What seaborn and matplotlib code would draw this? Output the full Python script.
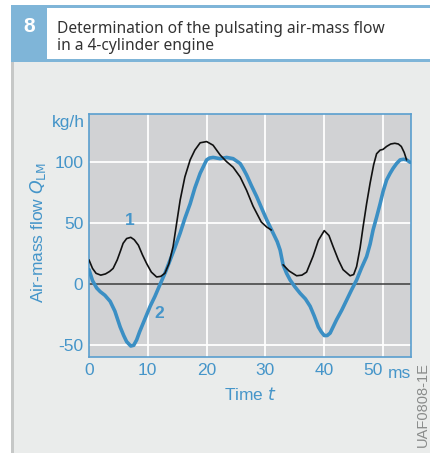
import matplotlib
matplotlib.use("Agg")
import matplotlib.pyplot as plt
import matplotlib.patches as mpatches
import seaborn as sns
import pandas as pd

# Curve 1: measured air-mass flow (black)
t1_a = [0, 0.6, 1.2, 2.0, 2.8, 3.5, 4.1, 4.8, 5.4, 5.8, 6.4, 7.1, 7.7, 8.4, 9.1, 9.8, 10.6,
        11.5, 12.2, 12.9, 13.6, 14.3, 14.9, 15.5, 16.3, 17.2, 18.0, 18.9, 20, 21.1, 21.7,
        22.3, 23.4, 24.5, 25.7, 26.8, 27.9, 29.3, 30.2, 31]
q1_a = [20, 13, 9, 7.5, 8.5, 10.5, 13, 20, 28, 33.6, 37.5, 38.5, 36.5, 32, 24, 17, 10,
        6, 6.5, 9, 17, 31, 50, 69, 88, 102, 110, 116, 117, 114, 110,
        106, 100.5, 96, 88, 77, 64, 51, 47, 44.5]
t1_b = [33, 34, 35.3, 36.2, 37, 38.1, 39, 40, 40.8, 41.5, 42.4, 43.2, 44.4, 45, 45.5,
        46.1, 46.6, 47.2, 47.8, 48.4, 48.9, 49.5, 50, 50.6, 51.3, 52, 52.6, 53.1, 53.6, 54]
q1_b = [16, 11, 7, 7.5, 10, 23, 36, 44, 40, 31, 20, 12, 7, 8, 14.5,
        30, 47, 66, 83, 98, 107, 110, 110.6, 113, 115, 115.6, 115, 113, 108, 102]

# Curve 2: actual pulsating air-mass flow (blue)
t2 = [0, 0.6, 1.3, 1.9, 2.7, 3.6, 4.4, 5.3, 5.9, 6.4, 7.1, 7.6, 8.1, 8.6, 9.2, 9.8, 10.4,
      11.2, 12.0, 13, 13.8, 14.6, 15.5, 16.3, 17.2, 18.0, 18.9, 19.5, 20, 20.5, 21.1,
      22.3, 23.4, 24.5, 25.1, 25.7, 26.2, 26.8, 27.6, 28.5, 29.3, 30.2, 31.3, 32, 32.5,
      33, 33.6, 34.2, 35, 35.9, 36.8, 37.6, 38.3, 39, 39.5, 40, 40.5, 41, 41.5, 42.1,
      43, 43.8, 44.6, 45.5, 46.3, 47.2, 47.8, 48.3, 48.9, 49.5, 50, 50.6, 51.2, 51.7,
      52.3, 52.9, 53.5, 54, 54.6]
q2 = [12, 3, -3, -6, -9, -14, -22, -35, -42, -47, -50.6, -50, -45.6, -39, -32, -25, -18,
      -10, -1, 10, 20, 30, 42, 54, 66, 79, 91, 97, 102, 103.5, 104,
      103, 104, 103, 101, 99, 95, 89.6, 81, 72, 63, 53, 42, 35, 28,
      16, 9, 3.5, -2, -7.4, -12, -18, -26, -35, -39, -42, -42, -40, -35, -29,
      -21, -13, -5, 3.5, 13, 22.7, 33, 44.5, 55, 66, 76, 85.5, 91, 95,
      99, 102, 102.5, 102, 100]

x_ticks = [0, 10, 20, 30, 40, 50]
x_tick_labels = ["0", "10", "20", "30", "40", "50"]
y_ticks = [-50, 0, 50, 100]
y_tick_labels = ["-50", "0", "50", "100"]

BLUE = "#3b8fc4"
TXT_BLUE = "#4595c9"
BG = "#eaeceb"
AX_BG = "#d1d2d4"
HEAD_BLUE = "#7fb5d8"

sns.set_theme(style="white")
plt.rcParams["font.family"] = ["Liberation Sans", "DejaVu Sans"]

fig = plt.figure(figsize=(4.30, 4.53), dpi=100)
fig.patch.set_facecolor("white")

W, H = 430.0, 453.0
def fx(px):
    return px / W
def fy(py):
    return 1 - py / H

def panel_rect(x0, y0, x1, y1, color):
    # rectangle given in pixel coordinates from the top-left corner
    fig.patches.append(mpatches.Rectangle((fx(x0), fy(y1)), (x1 - x0) / W, (y1 - y0) / H,
                                          transform=fig.transFigure, facecolor=color,
                                          edgecolor="none", zorder=-2))

# Panel background and header
panel_rect(11, 62, 430, 453, BG)
panel_rect(11, 62, 13.5, 453, "#c6c8c7")
panel_rect(11, 5.5, 430, 7.5, HEAD_BLUE)
panel_rect(11, 59.5, 430, 62, HEAD_BLUE)
panel_rect(11, 5.5, 47, 62, HEAD_BLUE)

fig.text(fx(29), fy(26), "8", color="white", fontsize=15, fontweight="bold", ha="center", va="center")
title_font = ["Noto Sans", "DejaVu Sans"]
fig.text(fx(57), fy(33), "Determination of the pulsating air-mass flow", color="#333333",
         fontsize=11.2, ha="left", va="baseline", family=title_font)
fig.text(fx(57), fy(50.5), "in a 4-cylinder engine", color="#333333",
         fontsize=11.2, ha="left", va="baseline", family=title_font)

ax = fig.add_axes([fx(89), fy(357), fx(410.7) - fx(89), (357 - 114) / H])
ax.set_zorder(3)
ax.set_facecolor(AX_BG)

df1a = pd.DataFrame({"t": t1_a, "q": q1_a})
df1b = pd.DataFrame({"t": t1_b, "q": q1_b})
df2 = pd.DataFrame({"t": t2, "q": q2})

ax.axhline(0, color="#3c3c3c", lw=1.1, zorder=2)
sns.lineplot(data=df2, x="t", y="q", ax=ax, color=BLUE, lw=2.6, sort=False, zorder=3)
sns.lineplot(data=df1a, x="t", y="q", ax=ax, color="#111111", lw=1.2, sort=False, zorder=4)
sns.lineplot(data=df1b, x="t", y="q", ax=ax, color="#111111", lw=1.2, sort=False, zorder=4)

ax.set_xlim(0, 54.7)
ax.set_ylim(-59.6, 139.6)
ax.set_xticks(x_ticks)
ax.set_xticklabels(x_tick_labels)
ax.set_yticks(y_ticks)
ax.set_yticklabels(y_tick_labels)
for v in x_ticks[1:]:
    ax.axvline(v, color="white", lw=1.3, zorder=1)
for v in [-50, 50, 100]:
    ax.axhline(v, color="white", lw=1.3, zorder=1)
ax.grid(False)
ax.tick_params(axis="both", length=0, labelsize=12.5, labelcolor=TXT_BLUE, pad=4)
xl = ax.get_xticklabels()
xl[-1].set_ha("right")
for s in ax.spines.values():
    s.set_color("#5a9fcf")
    s.set_linewidth(1.2)
ax.set_xlabel("")
ax.set_ylabel("")

ax.text(7, 46, "1", color=TXT_BLUE, fontsize=12.5, fontweight="bold", ha="center", va="bottom")
ax.text(12, -24, "2", color=TXT_BLUE, fontsize=12.5, fontweight="bold", ha="center", va="center")

fig.text(fx(388), fy(374), "ms", color=TXT_BLUE, fontsize=12.5, ha="left", va="center")
fig.text(fx(85), fy(123), "kg/h", color=TXT_BLUE, fontsize=12.5, ha="right", va="center")
fig.text(fx(250), fy(395), "Time $\\it{t}$", color=TXT_BLUE, fontsize=12.5, ha="center", va="center")
fig.text(fx(38), fy(233), "Air-mass flow $\\it{Q}_{\\rm LM}$", color=TXT_BLUE, fontsize=12.5,
         rotation=90, ha="center", va="center")
fig.text(fx(423), fy(362), "UAF0808-1E", color="#8a8c8b", fontsize=10.5,
         rotation=90, ha="center", va="top")

fig.savefig("out.png", dpi=100)
